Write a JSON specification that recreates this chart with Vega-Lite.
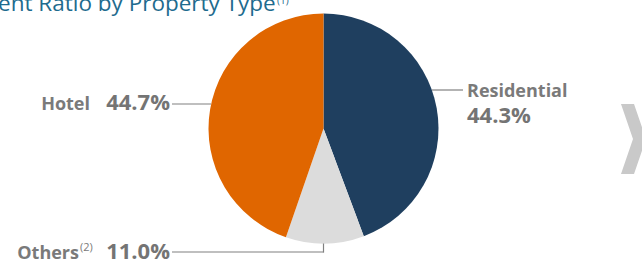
{
  "$schema": "https://vega.github.io/schema/vega-lite/v6.json",
  "width": 642,
  "height": 260,
  "autosize": {"type": "none"},
  "padding": 0,
  "background": "white",
  "config": {"view": {"stroke": null}, "text": {"font": "Open Sans"}},
  "datasets": {
    "pie": [
      {"type": "Residential", "share": 0.443, "order": 1},
      {"type": "Others", "share": 0.110, "order": 2},
      {"type": "Hotel", "share": 0.447, "order": 3}
    ]
  },
  "data": {"name": "pie"},
  "layer": [
    {
      "mark": {"type": "arc", "outerRadius": 115},
      "encoding": {
        "theta": {"field": "share", "type": "quantitative", "stack": true},
        "order": {"field": "order", "type": "quantitative"},
        "color": {"field": "type", "type": "nominal", "legend": null,
          "scale": {"domain": ["Residential", "Others", "Hotel"], "range": ["#1f3f5f", "#dcdcdc", "#e06600"]}},
        "x": {"datum": 323.5, "type": "quantitative", "axis": null, "scale": {"domain": [0, 642], "nice": false, "zero": false}},
        "y": {"datum": 128.5, "type": "quantitative", "axis": null, "scale": {"domain": [0, 260], "nice": false, "zero": false, "reverse": true}}
      }
    },
    {
      "transform": [{"filter": "datum.type === 'Hotel'"}],
      "mark": {"type": "rule", "color": "#808080", "strokeWidth": 1.2},
      "encoding": {
        "x": {"datum": 172, "type": "quantitative"}, "x2": {"datum": 211},
        "y": {"datum": 104, "type": "quantitative"}, "y2": {"datum": 104}
      }
    },
    {
      "transform": [{"filter": "datum.type === 'Residential'"}],
      "mark": {"type": "rule", "color": "#808080", "strokeWidth": 1.2},
      "encoding": {
        "x": {"datum": 432, "type": "quantitative"}, "x2": {"datum": 463},
        "y": {"datum": 90, "type": "quantitative"}, "y2": {"datum": 90}
      }
    },
    {
      "transform": [{"filter": "datum.type === 'Others'"}],
      "mark": {"type": "rule", "color": "#808080", "strokeWidth": 1.2},
      "encoding": {
        "x": {"datum": 172, "type": "quantitative"}, "x2": {"datum": 323.5},
        "y": {"datum": 252, "type": "quantitative"}, "y2": {"datum": 252}
      }
    },
    {
      "transform": [{"filter": "datum.type === 'Others'"}],
      "mark": {"type": "rule", "color": "#808080", "strokeWidth": 1.2},
      "encoding": {
        "x": {"datum": 323.5, "type": "quantitative"}, "x2": {"datum": 323.5},
        "y": {"datum": 243.5, "type": "quantitative"}, "y2": {"datum": 252.6}
      }
    },
    {
      "transform": [{"filter": "datum.type === 'Hotel'"}],
      "mark": {"type": "text", "align": "right", "baseline": "alphabetic", "fontSize": 18, "fontWeight": "bold", "color": "#7a7a7a"},
      "encoding": {
        "text": {"field": "type"},
        "x": {"datum": 90, "type": "quantitative"},
        "y": {"datum": 110, "type": "quantitative"}
      }
    },
    {
      "transform": [{"filter": "datum.type === 'Hotel'"}],
      "mark": {"type": "text", "align": "right", "baseline": "alphabetic", "fontSize": 22, "fontWeight": "bold", "color": "#747474"},
      "encoding": {
        "text": {"field": "share", "format": ".1%"},
        "x": {"datum": 170, "type": "quantitative"},
        "y": {"datum": 110, "type": "quantitative"}
      }
    },
    {
      "transform": [{"filter": "datum.type === 'Residential'"}],
      "mark": {"type": "text", "align": "left", "baseline": "alphabetic", "fontSize": 18, "fontWeight": "bold", "color": "#7a7a7a"},
      "encoding": {
        "text": {"field": "type"},
        "x": {"datum": 467, "type": "quantitative"},
        "y": {"datum": 97, "type": "quantitative"}
      }
    },
    {
      "transform": [{"filter": "datum.type === 'Residential'"}],
      "mark": {"type": "text", "align": "left", "baseline": "alphabetic", "fontSize": 22, "fontWeight": "bold", "color": "#747474"},
      "encoding": {
        "text": {"field": "share", "format": ".1%"},
        "x": {"datum": 467, "type": "quantitative"},
        "y": {"datum": 123, "type": "quantitative"}
      }
    },
    {
      "transform": [{"filter": "datum.type === 'Others'"}],
      "mark": {"type": "text", "align": "right", "baseline": "alphabetic", "fontSize": 18, "fontWeight": "bold", "color": "#7a7a7a"},
      "encoding": {
        "text": {"field": "type"},
        "x": {"datum": 79, "type": "quantitative"},
        "y": {"datum": 259, "type": "quantitative"}
      }
    },
    {
      "transform": [{"filter": "datum.type === 'Others'"}],
      "mark": {"type": "text", "align": "left", "baseline": "alphabetic", "fontSize": 11, "fontWeight": "normal", "color": "#7a7a7a", "text": "(2)"},
      "encoding": {
        "x": {"datum": 80, "type": "quantitative"},
        "y": {"datum": 251, "type": "quantitative"}
      }
    },
    {
      "transform": [{"filter": "datum.type === 'Others'"}],
      "mark": {"type": "text", "align": "right", "baseline": "alphabetic", "fontSize": 22, "fontWeight": "bold", "color": "#747474"},
      "encoding": {
        "text": {"field": "share", "format": ".1%"},
        "x": {"datum": 170, "type": "quantitative"},
        "y": {"datum": 259, "type": "quantitative"}
      }
    },
    {
      "transform": [{"filter": "datum.type === 'Hotel'"}],
      "mark": {"type": "text", "align": "left", "baseline": "alphabetic", "fontSize": 22.5, "color": "#1e6b8e", "text": "ent Ratio by Property Type"},
      "encoding": {
        "x": {"datum": -2, "type": "quantitative"},
        "y": {"datum": 10.5, "type": "quantitative"}
      }
    },
    {
      "transform": [{"filter": "datum.type === 'Hotel'"}],
      "mark": {"type": "text", "align": "left", "baseline": "alphabetic", "fontSize": 10, "color": "#1e6b8e", "text": "(1)"},
      "encoding": {
        "x": {"datum": 277, "type": "quantitative"},
        "y": {"datum": 4, "type": "quantitative"}
      }
    },
    {
      "transform": [{"filter": "datum.type === 'Hotel'"}],
      "mark": {"type": "point", "filled": true, "color": "#c9c9c9", "opacity": 1, "size": 4900,
        "shape": "M-0.343,-1L0.029,-1L0.371,0L0.029,1L-0.343,1L0,0Z"},
      "encoding": {
        "x": {"datum": 633, "type": "quantitative"},
        "y": {"datum": 139, "type": "quantitative"}
      }
    }
  ]
}
